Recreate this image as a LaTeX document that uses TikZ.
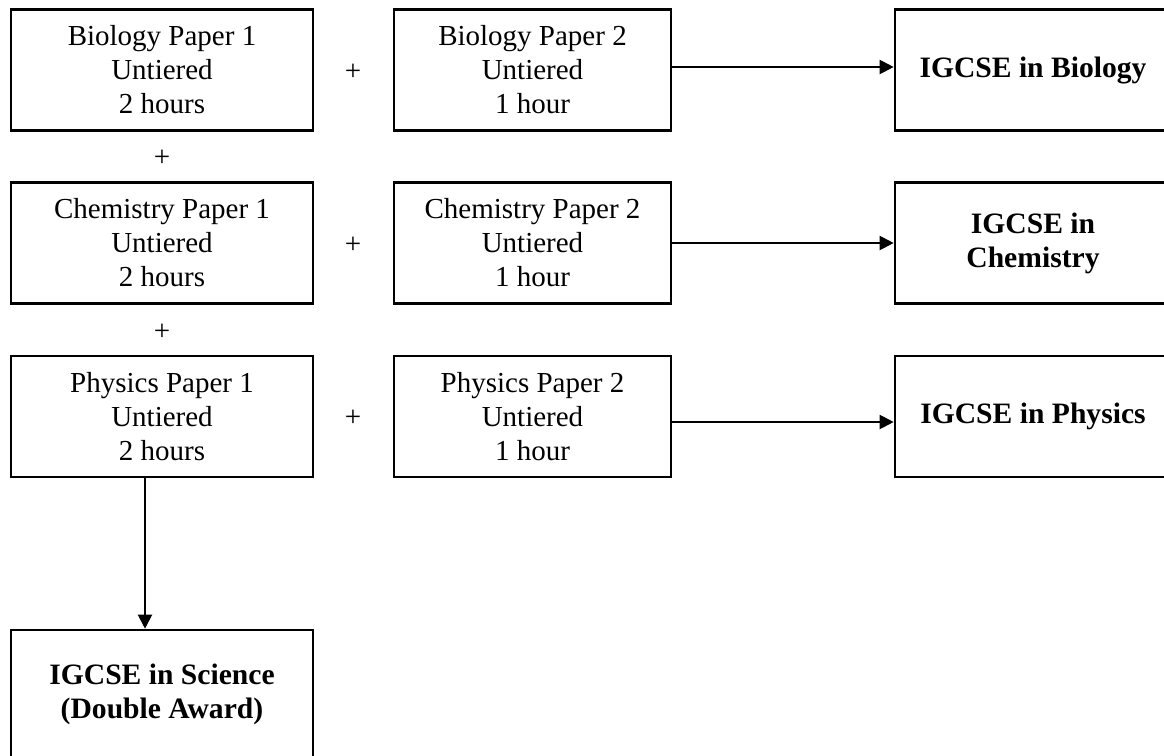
\documentclass[tikz,border=0pt]{standalone}
\usepackage{fontspec}
\setmainfont{Liberation Serif}
\usetikzlibrary{arrows.meta}
\begin{document}
\begin{tikzpicture}[x=0.5pt,y=-0.5pt,
  box/.style={draw=black,line width=1.3pt,rectangle,inner sep=0pt,align=center,
    font={\fontsize{14.5pt}{17pt}\selectfont},minimum height=60.5pt},
  paperone/.style={box,minimum width=151pt},
  papertwo/.style={box,minimum width=138.5pt},
  result/.style={box,minimum width=138pt,font={\fontsize{14.8pt}{17pt}\selectfont\bfseries}},
  plus/.style={inner sep=0pt,font={\fontsize{14.5pt}{17pt}\selectfont}},
  conn/.style={line width=1pt,-{Triangle[length=7pt,width=7pt]}}]
\useasboundingbox (0,0) rectangle (1164,756);
\clip (0,0) rectangle (1164,756);
% column 1
\node[paperone] (B1) at (162,70) {Biology Paper 1\\Untiered\\2 hours};
\node[paperone] (C1) at (162,243) {Chemistry Paper 1\\Untiered\\2 hours};
\node[paperone] (P1) at (162,416.5) {Physics Paper 1\\Untiered\\2 hours};
% column 2
\node[papertwo] (B2) at (532.5,70) {Biology Paper 2\\Untiered\\1 hour};
\node[papertwo] (C2) at (532.5,243) {Chemistry Paper 2\\Untiered\\1 hour};
\node[papertwo] (P2) at (532.5,416.5) {Physics Paper 2\\Untiered\\1 hour};
% results
\node[result] (RB) at (1033,70) {IGCSE in Biology};
\node[result] (RC) at (1033,243) {IGCSE in\\Chemistry};
\node[result] (RP) at (1033,416.5) {IGCSE in Physics};
\node[result,minimum width=151pt,minimum height=64pt] (RS) at (162,694) {IGCSE in Science\\(Double Award)};
% plus signs
\node[plus] (pb) at (353,72) {+};
\node[plus] (pc) at (353,245) {+};
\node[plus] (pp) at (353,418) {+};
\node[plus] (pbc) at (162,158) {+};
\node[plus] (pcp) at (162,332) {+};
% connectors
\draw[conn] ([yshift=1.5pt]B2.east) -- ([yshift=1.5pt]RB.west);
\draw[conn] (C2.east) -- (RC.west);
\draw[conn] ([yshift=-2.75pt]P2.east) -- ([yshift=-2.75pt]RP.west);
\draw[conn] ([xshift=-8.5pt]P1.south) -- ([xshift=-8.5pt]RS.north);
\end{tikzpicture}
\end{document}
